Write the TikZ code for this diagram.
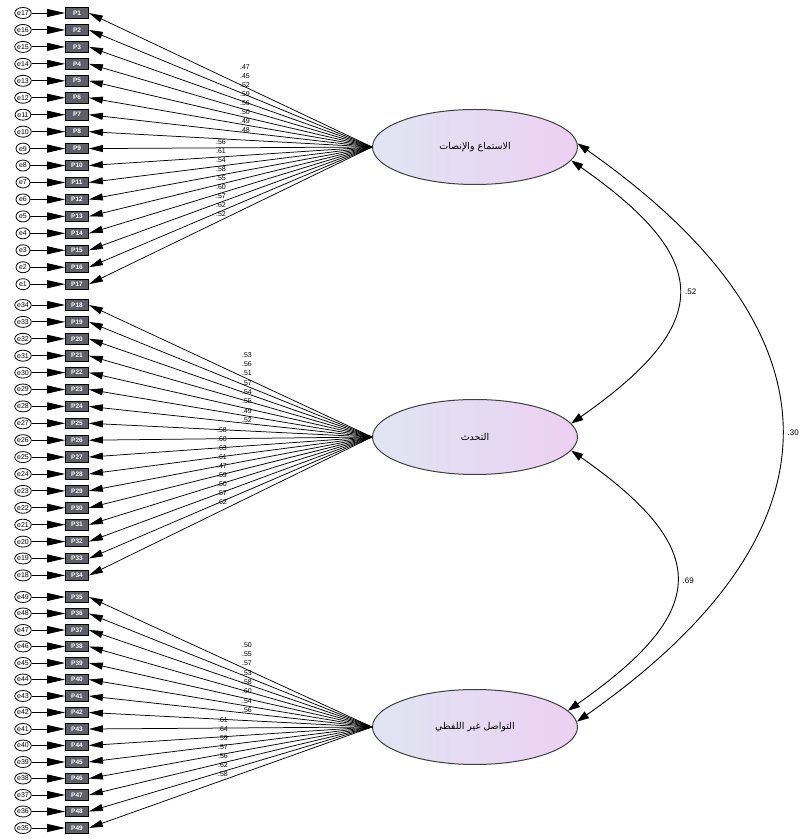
\documentclass[tikz,border=0pt]{standalone}
\usepackage{fontspec}
\setmainfont{Liberation Sans}
\newfontfamily\arabicfont[Script=Arabic]{DejaVu Sans}
\TeXXeTstate=1
\usetikzlibrary{shapes.geometric,arrows.meta,positioning}
\definecolor{latleft}{RGB}{224,229,242}
\definecolor{latright}{RGB}{236,208,242}
\definecolor{boxfill}{RGB}{95,95,105}

\begin{document}
\begin{tikzpicture}[
    x=1pt, y=1pt,
    latent/.style={
        ellipse,
        draw=black!75,
        line width=1pt,
        left color=latleft,
        right color=latright,
        minimum width=205pt,
        minimum height=75pt,
        font=\arabicfont\fontsize{9.5}{11}\selectfont
    },
    item/.style={
        rectangle,
        draw=black,
        line width=0.8pt,
        fill=boxfill,
        text=white,
        minimum width=23pt,
        minimum height=10.5pt,
        inner sep=0pt,
        font=\bfseries\fontsize{6.5}{6.5}\selectfont
    },
    err/.style={
        ellipse,
        draw=black,
        line width=0.8pt,
        fill=white,
        minimum width=14pt,
        minimum height=11pt,
        inner sep=0pt,
        font=\fontsize{7}{7}\selectfont
    },
    load/.style={font=\fontsize{7}{7}\selectfont, inner sep=0.5pt},
    loading/.style={-{Triangle[length=14pt,width=7pt]}, line width=0.75pt},
    errarrow/.style={-{Triangle[length=18pt,width=8pt]}, line width=0.9pt},
    cov/.style={{Triangle[length=12pt,width=8pt]}-{Triangle[length=12pt,width=8pt]}, line width=0.9pt}
]
    \useasboundingbox (0,0) rectangle (810,839);

    % Latent factors
    \node[latent] (listen) at (475,692) {\beginR الاستماع والإنصات\endR};
    \node[latent] (speak) at (475,402) {\beginR التحدث\endR};
    \node[latent] (nonverbal) at (475,112) {\beginR التواصل غير اللفظي\endR};

    % First factor: items P1-P17, errors e17-e1
    \foreach \i in {1,...,17} {
        \pgfmathsetmacro\yy{826-(\i-1)*16.95}
        \pgfmathtruncatemacro\ee{18-\i}
        \node[item] (p\i) at (77,\yy) {P\i};
        \node[err] (e\ee) at (23,\yy) {e\ee};
        \draw[errarrow] (e\ee) -- (p\i);
        \draw[loading] (listen.west) -- (p\i.east);
    }

    % Second factor: items P18-P34, errors e34-e18
    \foreach \i in {18,...,34} {
        \pgfmathsetmacro\yy{534-(\i-18)*16.9}
        \pgfmathtruncatemacro\ee{52-\i}
        \node[item] (p\i) at (77,\yy) {P\i};
        \node[err] (e\ee) at (23,\yy) {e\ee};
        \draw[errarrow] (e\ee) -- (p\i);
        \draw[loading] (speak.west) -- (p\i.east);
    }

    % Third factor: items P35-P49, errors e49-e35
    \foreach \i in {35,...,49} {
        \pgfmathsetmacro\yy{242-(\i-35)*16.5}
        \pgfmathtruncatemacro\ee{84-\i}
        \node[item] (p\i) at (77,\yy) {P\i};
        \node[err] (e\ee) at (23,\yy) {e\ee};
        \draw[errarrow] (e\ee) -- (p\i);
        \draw[loading] (nonverbal.west) -- (p\i.east);
    }

    % Standardised loadings, stacked in two columns per factor
    \foreach \v [count=\k] in {.47,.45,.52,.59,.56,.50,.49,.48}
        \node[load] (l\k) at (245,{772-(\k-1)*9}) {\v};
    \foreach \v [count=\k from 9] in {.56,.61,.54,.58,.55,.60,.57,.62,.52}
        \node[load] (l\k) at (221,{697-(\k-9)*9}) {\v};
    \foreach \v [count=\k from 18] in {.53,.56,.51,.57,.54,.55,.49,.52}
        \node[load] (l\k) at (247,{484-(\k-18)*9.3}) {\v};
    \foreach \v [count=\k from 26] in {.58,.60,.63,.61,.47,.59,.50,.57,.62}
        \node[load] (l\k) at (222,{409-(\k-26)*9}) {\v};
    \foreach \v [count=\k from 35] in {.50,.55,.57,.53,.58,.60,.54,.56}
        \node[load] (l\k) at (247,{194-(\k-35)*9.3}) {\v};
    \foreach \v [count=\k from 43] in {.61,.64,.59,.57,.56,.62,.58}
        \node[load] (l\k) at (223,{119-(\k-43)*9}) {\v};

    % Correlations between factors
    \draw[cov] (listen.-8) to[out=-35, in=35, looseness=1.7]
        node[right=3pt, font=\fontsize{8}{8}\selectfont] {.52} (speak.8);
    \draw[cov] (speak.-8) to[out=-35, in=35, looseness=1.7]
        node[right=3pt, font=\fontsize{8}{8}\selectfont] {.69} (nonverbal.10);
    \draw[cov] (listen.2) to[out=-35, in=35, looseness=1.47]
        node[right=3pt, font=\fontsize{8}{8}\selectfont] {.30} (nonverbal.3);

\end{tikzpicture}
\end{document}
